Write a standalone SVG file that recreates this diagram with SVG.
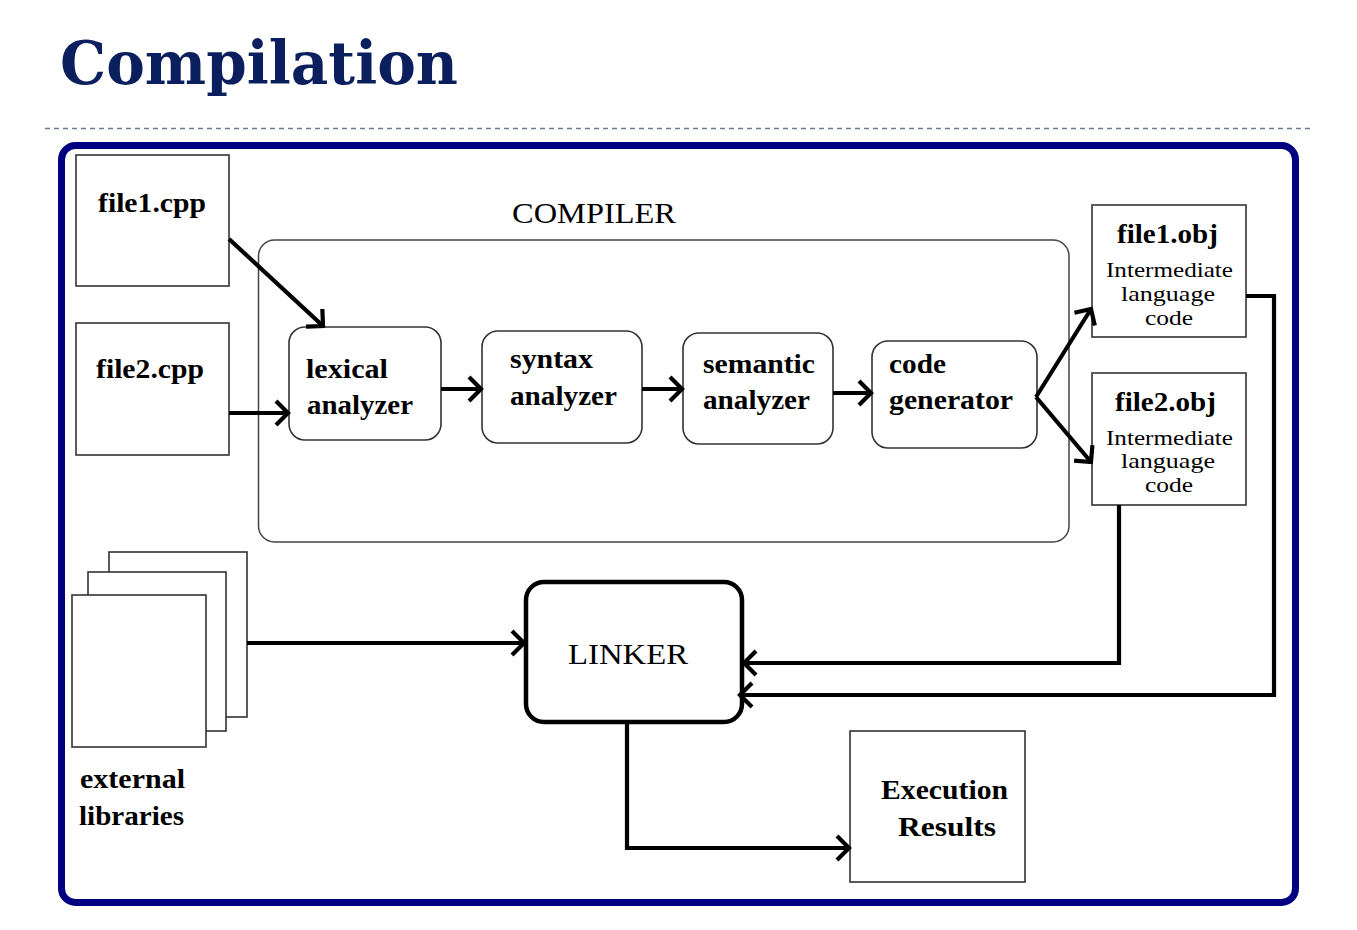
<svg xmlns="http://www.w3.org/2000/svg" width="1357" height="930" viewBox="0 0 1357 930">
<style>
.box{fill:#fff;stroke:#333;stroke-width:1.6}
.rbox{fill:#fff;stroke:#333;stroke-width:1.6}
.b{font-family:"Liberation Serif","Times New Roman",serif;font-weight:bold;font-size:28px;fill:#000}
.r{font-family:"Liberation Serif","Times New Roman",serif;font-size:29px;fill:#000}
.s{font-family:"Liberation Serif","Times New Roman",serif;font-size:22px;fill:#000}
.c{fill:none;stroke:#000;stroke-width:4.2;stroke-linejoin:miter}
</style>
<defs>
<marker id="ah" markerUnits="userSpaceOnUse" markerWidth="30" markerHeight="30" viewBox="-15 -15 30 30" refX="0" refY="0" orient="auto" overflow="visible">
<path d="M-12,-12 L0,0 L-12,12" fill="none" stroke="#000" stroke-width="4.2"/>
</marker>
</defs>
<rect width="1357" height="930" fill="#fff"/>
<g id="title">
<text x="60" y="84" font-family="'DejaVu Serif',serif" font-weight="bold" font-size="59" fill="#0b1f5e" textLength="398" lengthAdjust="spacingAndGlyphs">Compilation</text>
</g>
<line x1="45" y1="128.5" x2="1312" y2="128.5" stroke="#6b7b8c" stroke-width="1.5" stroke-dasharray="5 4"/>
<rect id="frame" x="61.5" y="145.5" width="1234" height="757" rx="14" fill="none" stroke="#000080" stroke-width="7"/>

<g id="compiler">
<rect x="258.5" y="240" width="810.5" height="302" rx="16" fill="none" stroke="#444" stroke-width="1.5"/>
<text class="r" x="512" y="223" textLength="164" lengthAdjust="spacingAndGlyphs">COMPILER</text>
</g>
<g id="file1cpp">
<rect class="box" x="76" y="155" width="153" height="131"/>
<text class="b" x="98" y="212" textLength="108" lengthAdjust="spacingAndGlyphs">file1.cpp</text>
</g>
<g id="file2cpp">
<rect class="box" x="76" y="323" width="153" height="132"/>
<text class="b" x="96" y="378" textLength="108" lengthAdjust="spacingAndGlyphs">file2.cpp</text>
</g>
<g id="lexical">
<rect class="rbox" x="289" y="327" width="152" height="113" rx="16"/>
<text class="b" x="306" y="378" textLength="82" lengthAdjust="spacingAndGlyphs">lexical</text>
<text class="b" x="307" y="414" textLength="106" lengthAdjust="spacingAndGlyphs">analyzer</text>
</g>
<g id="syntax">
<rect class="rbox" x="482" y="331" width="160" height="112" rx="16"/>
<text class="b" x="510" y="368" textLength="83" lengthAdjust="spacingAndGlyphs">syntax</text>
<text class="b" x="510" y="405" textLength="107" lengthAdjust="spacingAndGlyphs">analyzer</text>
</g>
<g id="semantic">
<rect class="rbox" x="683" y="333" width="150" height="111" rx="16"/>
<text class="b" x="703" y="373" textLength="112" lengthAdjust="spacingAndGlyphs">semantic</text>
<text class="b" x="703" y="409" textLength="107" lengthAdjust="spacingAndGlyphs">analyzer</text>
</g>
<g id="codegen">
<rect class="rbox" x="872" y="341" width="165" height="107" rx="16"/>
<text class="b" x="889" y="373" textLength="57" lengthAdjust="spacingAndGlyphs">code</text>
<text class="b" x="889" y="409" textLength="124" lengthAdjust="spacingAndGlyphs">generator</text>
</g>
<g id="file1obj">
<rect class="box" x="1092" y="205" width="154" height="132"/>
<text class="b" x="1117" y="243" textLength="101" lengthAdjust="spacingAndGlyphs">file1.obj</text>
<text class="s" x="1106" y="277" textLength="127" lengthAdjust="spacingAndGlyphs">Intermediate</text>
<text class="s" x="1121" y="301" textLength="94" lengthAdjust="spacingAndGlyphs">language</text>
<text class="s" x="1145" y="325" textLength="48" lengthAdjust="spacingAndGlyphs">code</text>
</g>
<g id="file2obj">
<rect class="box" x="1092" y="373" width="154" height="132"/>
<text class="b" x="1115" y="411" textLength="101" lengthAdjust="spacingAndGlyphs">file2.obj</text>
<text class="s" x="1106" y="445" textLength="127" lengthAdjust="spacingAndGlyphs">Intermediate</text>
<text class="s" x="1121" y="468" textLength="94" lengthAdjust="spacingAndGlyphs">language</text>
<text class="s" x="1145" y="492" textLength="48" lengthAdjust="spacingAndGlyphs">code</text>
</g>
<g id="libraries">
<rect class="box" x="109" y="552" width="138" height="165"/>
<rect class="box" x="88" y="572" width="138" height="159"/>
<rect class="box" x="72" y="595" width="134" height="152"/>
<text class="b" x="80" y="788" textLength="105" lengthAdjust="spacingAndGlyphs">external</text>
<text class="b" x="79" y="825" textLength="105" lengthAdjust="spacingAndGlyphs">libraries</text>
</g>
<g id="linker">
<rect x="526" y="582" width="216" height="140" rx="18" fill="#fff" stroke="#000" stroke-width="4.5"/>
<text class="r" x="568" y="664" font-size="30" textLength="120" lengthAdjust="spacingAndGlyphs">LINKER</text>
</g>
<g id="execution">
<rect class="box" x="850" y="731" width="175" height="151"/>
<text class="b" x="881" y="799" textLength="127" lengthAdjust="spacingAndGlyphs">Execution</text>
<text class="b" x="898" y="836" textLength="98" lengthAdjust="spacingAndGlyphs">Results</text>
</g>
<g id="connectors">
<line class="c" x1="229" y1="239" x2="323" y2="326" marker-end="url(#ah)"/>
<line class="c" x1="229" y1="413" x2="288" y2="413" marker-end="url(#ah)"/>
<line class="c" x1="441" y1="389" x2="481" y2="389" marker-end="url(#ah)"/>
<line class="c" x1="642" y1="389" x2="682" y2="389" marker-end="url(#ah)"/>
<line class="c" x1="833" y1="393" x2="871" y2="393" marker-end="url(#ah)"/>
<line class="c" x1="1036" y1="397" x2="1091" y2="309" marker-end="url(#ah)"/>
<line class="c" x1="1036" y1="397" x2="1091" y2="462" marker-end="url(#ah)"/>
<line class="c" x1="247" y1="643" x2="524" y2="643" marker-end="url(#ah)"/>
<polyline class="c" points="1119,505 1119,663 744,663" marker-end="url(#ah)"/>
<polyline class="c" points="1246,296 1274,296 1274,695 740,695" marker-end="url(#ah)"/>
<polyline class="c" points="627,722 627,848 849,848" marker-end="url(#ah)"/>
</g>
</svg>
